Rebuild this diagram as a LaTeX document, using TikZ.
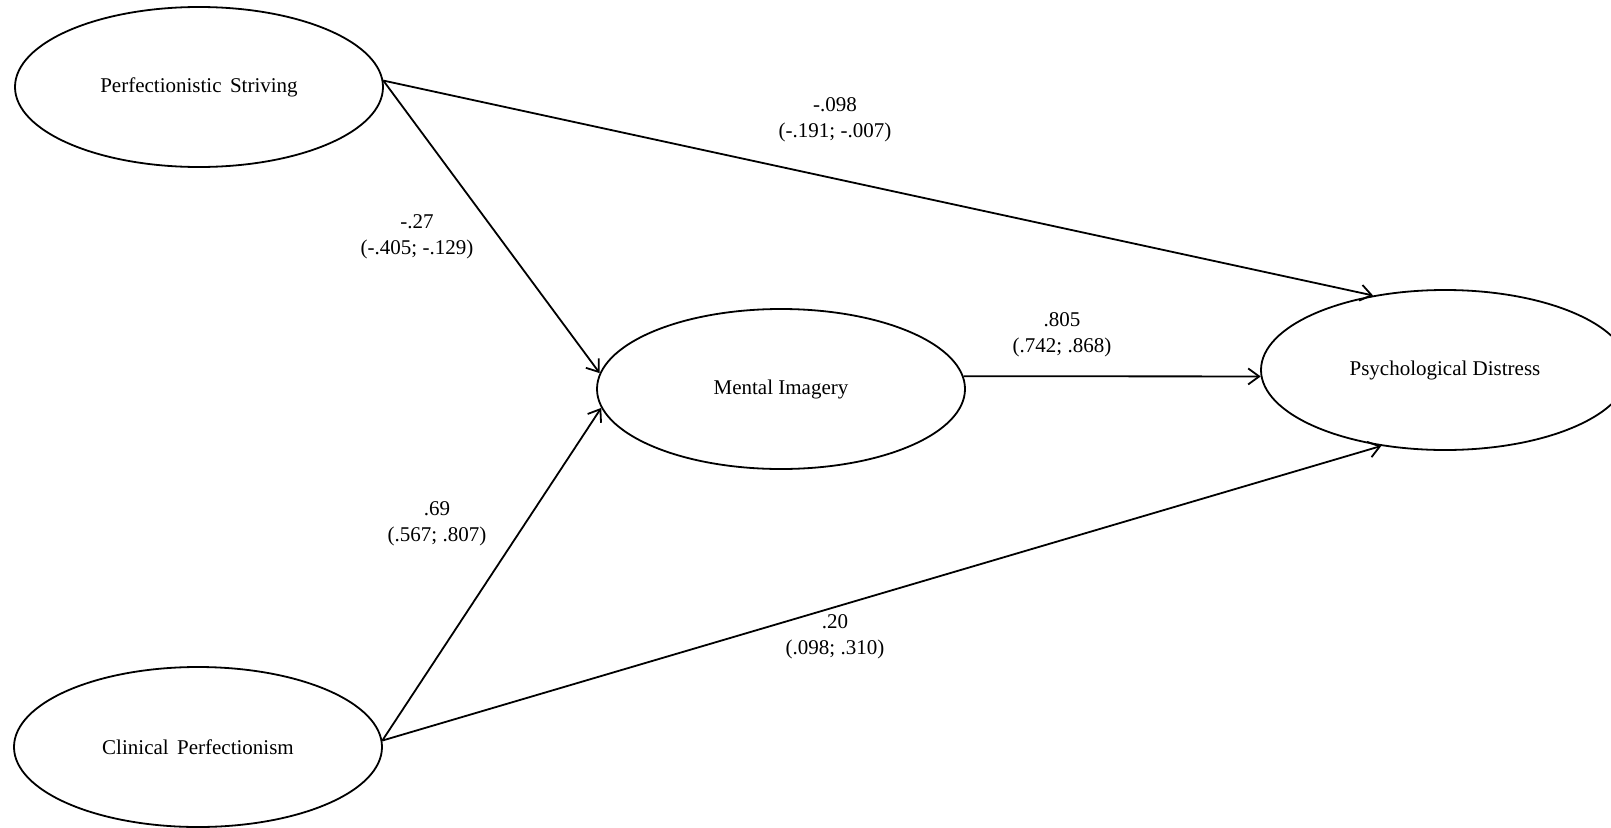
\documentclass[tikz,border=0pt]{standalone}
\usepackage{fontspec}
\setmainfont{Liberation Serif}
\usetikzlibrary{arrows.meta,shapes.geometric}
\tikzset{
  latent/.style={draw, ellipse, line width=1.8pt, minimum width=368pt, minimum height=160pt, inner sep=0pt,
    font=\fontsize{21}{26}\selectfont},
  path/.style={draw, line width=1.8pt, -{Straight Barb[length=11pt,width=16pt,line width=1.8pt]}},
  coef/.style={align=center, inner sep=0pt, font=\fontsize{21}{26}\selectfont}
}
\begin{document}
\begin{tikzpicture}[x=1pt,y=-1pt]
\useasboundingbox (0,0) rectangle (1611,827);
\clip (0,0) rectangle (1611,827);
\node[latent] (ps) at (199,87) {Perfectionistic\hspace{0.4em}Striving};
\node[latent] (cp) at (198,747) {Clinical\hspace{0.4em}Perfectionism};
\node[latent] (mi) at (781,389) {Mental Imagery};
\node[latent] (pd) at (1445,370) {Psychological Distress};

\draw[path] (ps.2) -- (mi.175);
\draw[path] (ps.2) -- (pd.134);
\draw[path] (cp.2) -- (mi.186);
\draw[path] (cp.2) -- (pd.230);
\draw[path] (mi.4) -- (pd.182);

\node[coef] (l1) at (835,120) {-.098\\(-.191; -.007)};
\node[coef] (l2) at (417,237) {-.27\\(-.405; -.129)};
\node[coef] (l3) at (1062,335) {.805\\(.742; .868)};
\node[coef] (l4) at (437,524) {.69\\(.567; .807)};
\node[coef] (l5) at (835,637) {.20\\(.098; .310)};
\end{tikzpicture}
\end{document}
